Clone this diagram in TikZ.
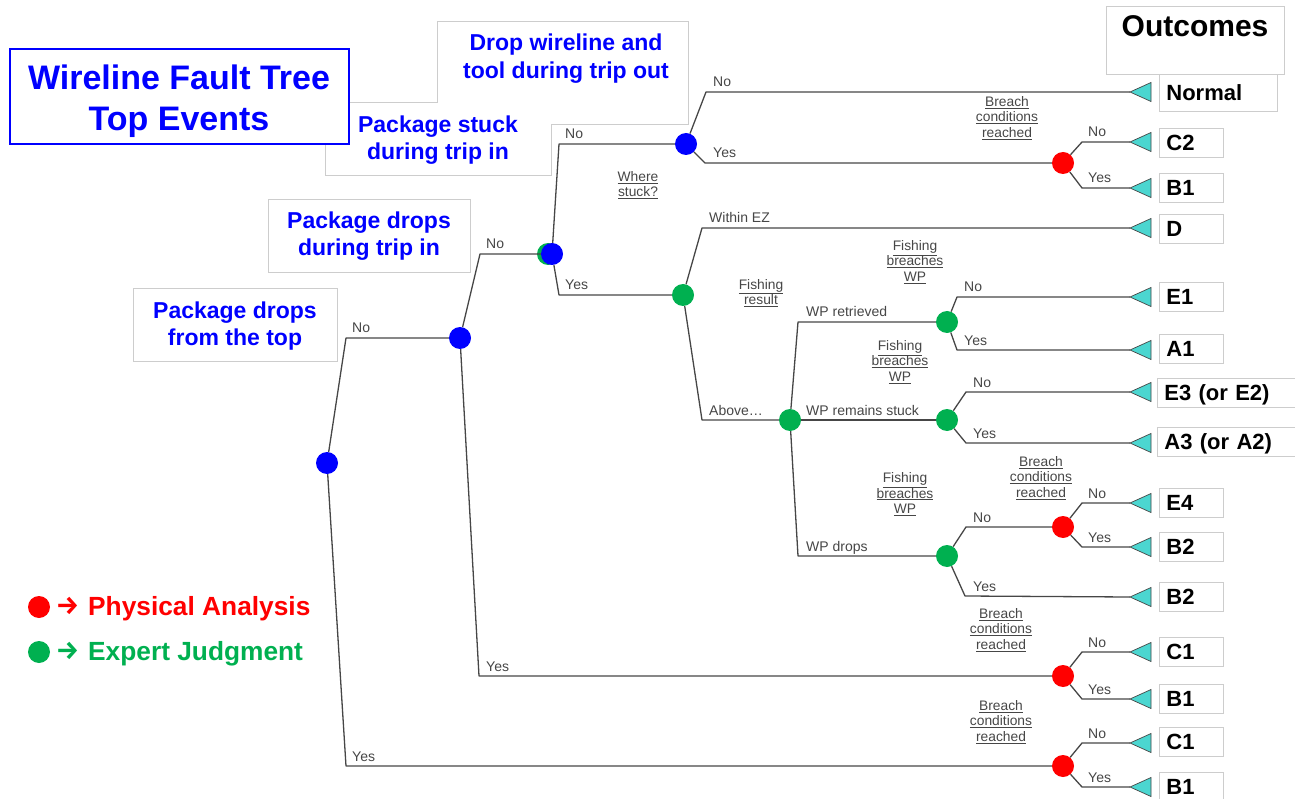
\documentclass[tikz,border=0pt]{standalone}
\usepackage{fontspec}
\setmainfont{Liberation Sans}
\newfontfamily\arrfont{Fira Sans}
\definecolor{tblue}{RGB}{0,0,255}
\definecolor{tred}{RGB}{255,0,0}
\definecolor{tgreen}{RGB}{0,176,80}
\definecolor{tcyan}{RGB}{75,214,208}
\definecolor{lgray}{RGB}{70,70,70}
\definecolor{boxgray}{RGB}{205,205,205}
\newcommand\qund[1]{\underline{#1}}
\begin{document}
\begin{tikzpicture}[x=1pt,y=-1pt,
  branch/.style={draw=lgray, line width=1.3pt, line join=round},
  ev/.style={circle, minimum size=22pt, inner sep=0pt},
  bev/.style={ev, fill=tblue},
  gev/.style={ev, fill=tgreen},
  rev/.style={ev, fill=tred},
  tri/.style={fill=tcyan, draw=lgray, line width=0.7pt},
  lab/.style={font=\fontsize{14}{15}\selectfont, text=lgray, anchor=base west, inner sep=0pt},
  qlab/.style={font=\fontsize{13.8}{15.5}\selectfont, text=lgray, align=center, inner sep=0pt},
  obox/.style={draw=boxgray, line width=0.8pt, fill=white, anchor=west, minimum height=29pt,
    inner xsep=7pt, inner ysep=0pt, text height=15.8pt, text depth=0pt,
    font=\fontsize{22}{26}\selectfont\bfseries, align=left, text width=50pt},
  evbox/.style={fill=white, draw=boxgray, line width=0.8pt},
  evtext/.style={font=\fontsize{23}{27.5}\selectfont\bfseries, text=tblue, align=center, inner sep=0pt},
  legtext/.style={font=\fontsize{26.3}{30}\selectfont\bfseries, anchor=west, inner sep=0pt, text height=18.6pt, text depth=0pt},
  legarr/.style={font=\arrfont\bfseries\fontsize{26}{30}\selectfont, inner sep=0pt}
]
\useasboundingbox (0,0) rectangle (1295,799);

% ---- header boxes
\filldraw[evbox] (437,21) -- (688,21) -- (688,124) -- (551,124) -- (551,175) -- (325,175) -- (325,102) -- (437,102) -- cycle;
\filldraw[evbox] (268,199) rectangle (470,272);
\filldraw[evbox] (133,288) rectangle (337,361);
\filldraw[fill=white, draw=tblue, line width=2pt] (10,49) rectangle (349,144);
\node[evtext] (hdrop) at (566,58.4) {Drop wireline and\\tool during trip out};
\node[evtext] (hstuck) at (438,140) {Package stuck\\during trip in};
\node[evtext] (hdropin) at (369,236) {Package drops\\during trip in};
\node[evtext] (hdroptop) at (235,326) {Package drops\\from the top};
\node[font=\fontsize{34}{41}\selectfont\bfseries, text=tblue, align=center, inner sep=0pt] (title) at (179,101) {Wireline Fault Tree\\Top Events};

% ---- outcomes header
\draw[draw=boxgray, line width=0.8pt] (1106,6) rectangle (1284,74);
\node[font=\fontsize{30}{34}\selectfont\bfseries, inner sep=0pt] (outhdr) at (1195,26) {Outcomes};

% ---- event nodes
\fill[tgreen] (548,254) circle (11);
\node[bev] (root) at (327,463) {};
\node[bev] (nA) at (460,338) {};
\node[bev] (nB) at (552,254) {};
\node[bev] (nC) at (686,144) {};
\node[rev] (r1) at (1063,163) {};
\node[gev] (g1) at (683,295) {};
\node[gev] (g2) at (790,420) {};
\node[gev] (g3) at (947,322) {};
\node[gev] (g4) at (947,420) {};
\node[gev] (g5) at (947,556) {};
\node[rev] (r4) at (1063,527) {};
\node[rev] (r2) at (1063,676) {};
\node[rev] (r3) at (1063,766) {};

% ---- corners
\coordinate (k1) at (346,338);  \coordinate (k2) at (346,766);
\coordinate (k3) at (480,254);  \coordinate (k4) at (479,676);
\coordinate (k5) at (559,144);  \coordinate (k6) at (559,295);
\coordinate (k7) at (706,92);   \coordinate (k8) at (705,163);
\coordinate (k9) at (1082,142); \coordinate (k10) at (1082,188);
\coordinate (k11) at (702,228); \coordinate (k12) at (702,420);
\coordinate (k13) at (798,322); \coordinate (k14) at (798,556);
\coordinate (k15) at (957,297); \coordinate (k16) at (957,350);
\coordinate (k17) at (966,392); \coordinate (k18) at (966,443);
\coordinate (k19) at (966,527); \coordinate (k20) at (965,596);
\coordinate (k21) at (1082,503); \coordinate (k22) at (1082,547);
\coordinate (k23) at (1082,652); \coordinate (k24) at (1082,699);
\coordinate (k25) at (1082,743); \coordinate (k26) at (1082,787);

% ---- outcome tips, triangles and boxes
\foreach \nm/\yy in {Normal/92, Ctwo/142, Bone/188, D/228, Eone/297, Aone/350, Ethree/392, Athree/443, Efour/503, Btwoa/547, Btwob/597, Conea/652, Bonea/699, Coneb/743, Boneb/787}{
  \coordinate (t\nm) at (1130,\yy);
}
\node[obox, text width=104pt, minimum height=37pt] (oNormal) at (1159,92.5) {Normal};
\node[obox] (oCtwo) at (1159,142.5) {C2};
\node[obox] (oBone) at (1159,187.5) {B1};
\node[obox] (oD) at (1159,229) {D};
\node[obox] (oEone) at (1159,297) {E1};
\node[obox] (oAone) at (1159,349) {A1};
\node[obox, text width=131pt] (oEthree) at (1157,392.5) {E3 (or E2)};
\node[obox, text width=131pt] (oAthree) at (1157,442) {A3 (or A2)};
\node[obox] (oEfour) at (1159,503) {E4};
\node[obox] (oBtwoa) at (1159,546.5) {B2};
\node[obox] (oBtwob) at (1159,597) {B2};
\node[obox] (oConea) at (1159,652) {C1};
\node[obox] (oBonea) at (1159,699) {B1};
\node[obox] (oConeb) at (1159,741.5) {C1};
\node[obox] (oBoneb) at (1159,787) {B1};

% ---- branches
\draw[branch] (root) -- (k1) -- (nA);
\draw[branch] (root) -- (k2) -- (r3);
\draw[branch] (nA) -- (k3) -- (nB);
\draw[branch] (nA) -- (k4) -- (r2);
\draw[branch] (nB) -- (k5) -- (nC);
\draw[branch] (nB) -- (k6) -- (g1);
\draw[branch] (nC) -- (k7) -- (tNormal);
\draw[branch] (nC) -- (k8) -- (r1);
\draw[branch] (r1) -- (k9) -- (tCtwo);
\draw[branch] (r1) -- (k10) -- (tBone);
\draw[branch] (g1) -- (k11) -- (tD);
\draw[branch] (g1) -- (k12) -- (g2);
\draw[branch] (g2) -- (k13) -- (g3);
\draw[branch] (g2) -- (g4);
\draw[branch] (g2) -- (k14) -- (g5);
\draw[branch] (g3) -- (k15) -- (tEone);
\draw[branch] (g3) -- (k16) -- (tAone);
\draw[branch] (g4) -- (k17) -- (tEthree);
\draw[branch] (g4) -- (k18) -- (tAthree);
\draw[branch] (g5) -- (k19) -- (r4);
\draw[branch] (g5) -- (k20) -- (tBtwob);
\draw[branch] (r4) -- (k21) -- (tEfour);
\draw[branch] (r4) -- (k22) -- (tBtwoa);
\draw[branch] (r2) -- (k23) -- (tConea);
\draw[branch] (r2) -- (k24) -- (tBonea);
\draw[branch] (r3) -- (k25) -- (tConeb);
\draw[branch] (r3) -- (k26) -- (tBoneb);

\foreach \nm in {Normal, Ctwo, Bone, D, Eone, Aone, Ethree, Athree, Efour, Btwoa, Btwob, Conea, Bonea, Coneb, Boneb}{
  \filldraw[tri] (t\nm) -- ++(21,-9.5) -- ++(0,19) -- cycle;
}

% ---- branch labels
\node[lab] (l1) at (352,333) {No};
\node[lab] (l2) at (352,761) {Yes};
\node[lab] (l3) at (486,249) {No};
\node[lab] (l4) at (486,671) {Yes};
\node[lab] (l5) at (565,139) {No};
\node[lab] (l6) at (565,290) {Yes};
\node[lab] (l7) at (713,87) {No};
\node[lab] (l8) at (713,158) {Yes};
\node[lab] (l9) at (1088,137) {No};
\node[lab] (l10) at (1088,183) {Yes};
\node[lab] (l11) at (709,223) {Within EZ};
\node[lab] (l12) at (709,415) {Above…};
\node[lab] (l13) at (806,317) {WP retrieved};
\node[lab] (l14) at (806,415) {WP remains stuck};
\node[lab] (l15) at (806,551) {WP drops};
\node[lab] (l16) at (964,292) {No};
\node[lab] (l17) at (964,345) {Yes};
\node[lab] (l18) at (973,387) {No};
\node[lab] (l19) at (973,438) {Yes};
\node[lab] (l20) at (973,522) {No};
\node[lab] (l21) at (973,591) {Yes};
\node[lab] (l22) at (1088,498) {No};
\node[lab] (l23) at (1088,542) {Yes};
\node[lab] (l24) at (1088,647) {No};
\node[lab] (l25) at (1088,694) {Yes};
\node[lab] (l26) at (1088,738) {No};
\node[lab] (l27) at (1088,782) {Yes};

% ---- question labels
\node[qlab] (q1) at (638,185) {\qund{Where}\\\qund{stuck?}};
\node[qlab] (q2) at (1007,118) {\qund{Breach}\\\qund{conditions}\\\qund{reached}};
\node[qlab] (q3) at (761,293) {\qund{Fishing}\\\qund{result}};
\node[qlab] (q4) at (915,262) {\qund{Fishing}\\\qund{breaches}\\\qund{WP}};
\node[qlab] (q5) at (900,362) {\qund{Fishing}\\\qund{breaches}\\\qund{WP}};
\node[qlab] (q6) at (905,494) {\qund{Fishing}\\\qund{breaches}\\\qund{WP}};
\node[qlab] (q7) at (1041,478) {\qund{Breach}\\\qund{conditions}\\\qund{reached}};
\node[qlab] (q8) at (1001,630) {\qund{Breach}\\\qund{conditions}\\\qund{reached}};
\node[qlab] (q9) at (1001,722) {\qund{Breach}\\\qund{conditions}\\\qund{reached}};

% ---- legend
\node[ev, fill=tred] (legr) at (39,607) {};
\node[ev, fill=tgreen] (legg) at (39,652) {};
\node[legarr, text=tred] (arr1) at (67.5,605.5) {→};
\node[legarr, text=tgreen] (arr2) at (67.5,650.5) {→};
\node[legtext, text=tred] (legrt) at (88,606) {Physical Analysis};
\node[legtext, text=tgreen] (leggt) at (88,651) {Expert Judgment};
\end{tikzpicture}
\end{document}
